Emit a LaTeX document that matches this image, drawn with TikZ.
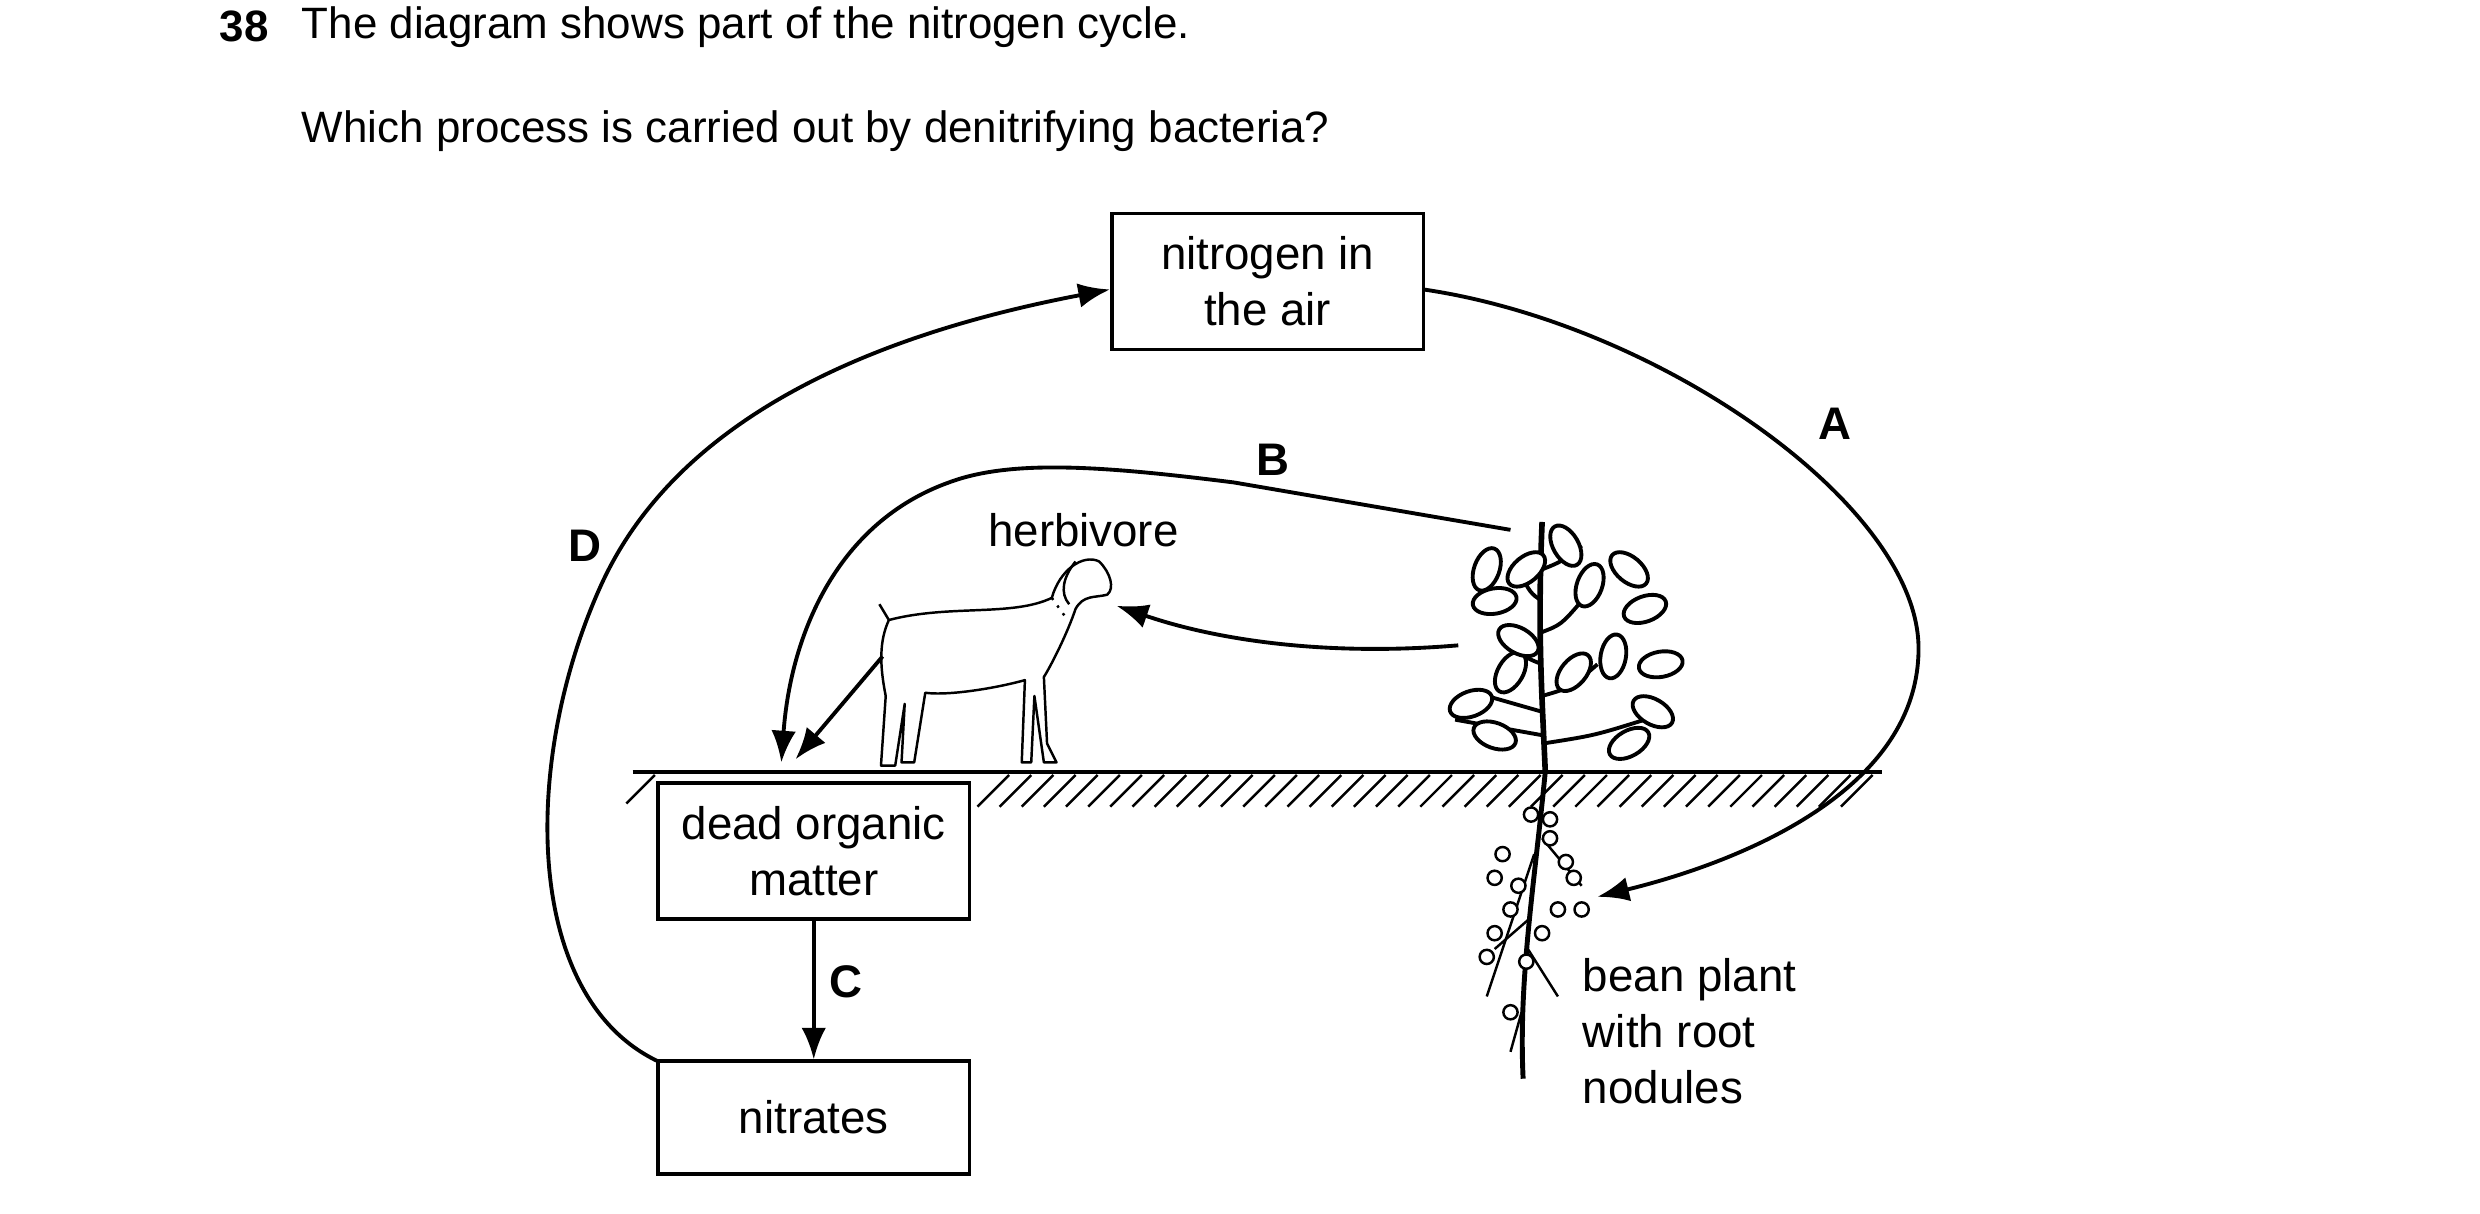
\documentclass[tikz,border=0pt]{standalone}
\usepackage{fontspec}
\setmainfont{Liberation Sans}
\usetikzlibrary{arrows.meta,patterns}
\begin{document}
\begin{tikzpicture}[x=0.015816cm,y=-0.015816cm,
  box/.style={draw,line width=1.1pt,align=center,font=\fontsize{13}{16}\selectfont,inner sep=0pt},
  arr/.style={line width=1.1pt,-{Latex[length=9pt,width=7pt]}},
  lab/.style={font=\bfseries\fontsize{13}{16}\selectfont},
  txt/.style={font=\fontsize{13}{16}\selectfont,anchor=west},
  thin/.style={line width=0.7pt}]
\useasboundingbox (0,0) rectangle (1568,767.5);
\node[font=\bfseries\fontsize{12.5}{15}\selectfont,anchor=west] (n38) at (131,17) {38};
\node[txt,font=\fontsize{12.5}{15}\selectfont] (t1) at (183,17) {The diagram shows part of the nitrogen cycle.};
\node[txt,font=\fontsize{12.5}{15}\selectfont] (t2) at (183,83) {Which process is carried out by denitrifying bacteria?};
% boxes
\node[box,minimum width=197*0.015816cm,minimum height=86*0.015816cm] (air) at (801.5,178) {nitrogen in\\the air};
\node[box,minimum width=197*0.015816cm,minimum height=86*0.015816cm] (dead) at (514.5,538) {dead organic\\matter};
\node[box,minimum width=197*0.015816cm,minimum height=71*0.015816cm] (nit) at (514.5,706.5) {nitrates};
% ground
\draw[line width=1.1pt] (400,488) -- (1190,488);
\foreach \x in {400,414,...,1186}{
  \ifnum\x>404 \ifnum\x<626 \else \draw[thin] (\x,490) -- (\x-20,510); \fi \else \draw[thin] (\x+14,490) -- (\x-4,508);\fi
}
% arrows
\coordinate (dstart) at (416,671);
\draw[arr] (dstart) .. controls (330,630) and (330,480) .. (380,370) .. controls (430,260) and (560,210) .. (air.west|-0,183);
\node[lab] (D) at (370,345) {D};
\coordinate (astart) at (900,183);
\draw[arr] (astart) .. controls (1050,205) and (1213,320) .. (1213,410) .. controls (1213,500) and (1100,545) .. (1010,567);
\node[lab] (A) at (1160,268) {A};
\coordinate (bstart) at (955,335);
\draw[arr] (bstart) -- (780,305) .. controls (700,295) and (640,290) .. (600,305) .. controls (530,330) and (500,400) .. (494,482);
\node[lab] (B) at (805,291) {B};
\coordinate (gs) at (558,415);
\coordinate (ge) at (503,480);
\draw[arr] (gs) -- (ge);
\coordinate (ps) at (922,408);
\coordinate (pe) at (706,383);
\draw[arr] (ps) .. controls (840,415) and (770,405) .. (pe);
\draw[arr] (dead) -- (nit);
\node[lab] (C) at (535,621) {C};
\node[font=\fontsize{13}{16}\selectfont] (herb) at (685,335) {herbivore};
\node[txt,align=left] (bean) at (993,652) {bean plant\\with root\\nodules};
% goat
\draw[thin,line join=round] (562,392) .. controls (600,382) and (640,390) .. (665,378)
 .. controls (670,360) and (685,350) .. (695,355) .. controls (702,362) and (705,372) .. (700,376)
 .. controls (692,378) and (685,376) .. (680,385) .. controls (675,400) and (665,420) .. (660,428)
 -- (662,470) -- (668,482) -- (660,482) -- (654,440) -- (652,482) -- (646,482) -- (648,430)
 .. controls (630,435) and (600,440) .. (585,438) -- (578,482) -- (570,482) -- (572,445)
 -- (566,484) -- (557,484) -- (560,440) .. controls (556,420) and (556,405) .. (562,392);
\draw[thin] (562,392) -- (556,382);
\draw[thin] (680,355) .. controls (672,365) and (670,375) .. (676,382);
\draw[thin,dotted] (665,378) -- (675,392);
% plant
\draw[line width=1.6pt] (977,488) .. controls (975,440) and (972,400) .. (975,330);
\foreach \a/\b/\c/\d in {975/450/940/440, 975/440/1010/420, 975/420/950/400, 974/400/1000/380, 975/380/960/360, 975/360/1000/345, 976/470/1040/455, 976/465/920/455}
  \draw[line width=1.1pt] (\a,\b) .. controls ({(\a+\c)/2},{\b-5}) .. (\c,\d);
\foreach \x/\y/\r in {930/445/20, 945/465/-20, 955/425/60, 960/405/-30, 945/380/10, 965/360/40, 990/345/-60, 1005/370/70, 1030/360/-40, 1040/385/20, 1020/415/80, 1050/420/10, 1045/450/-30, 1030/470/30, 995/425/50, 940/360/70}
  \draw[line width=1.1pt,fill=white] (\x,\y) ellipse [x radius=14, y radius=8, rotate=\r];
% roots
\draw[line width=1.4pt] (977,488) .. controls (970,560) and (960,620) .. (963,682);
\draw[thin] (970,540) -- (940,630);
\draw[thin] (975,530) -- (1000,560);
\draw[thin] (968,580) -- (945,600);
\draw[thin] (966,600) -- (985,630);
\draw[thin] (962,640) -- (955,665);
\foreach \x/\y in {968/515,980/518,950/540,990/545,945/555,995/555,955/575,985/575,1000/575,945/590,975/590,965/608,940/605,955/640,980/530,960/560}
  \draw[thin,fill=white] (\x,\y) circle (4.5);
\end{tikzpicture}
\end{document}
